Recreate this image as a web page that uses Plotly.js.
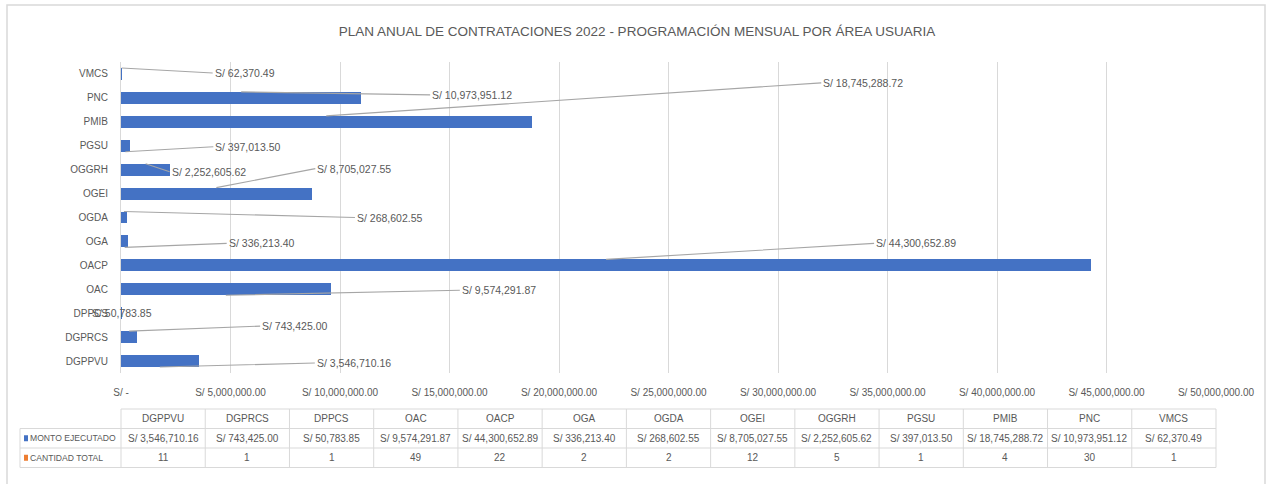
<!DOCTYPE html>
<html>
<head>
<meta charset="utf-8">
<script src="https://cdn.plot.ly/plotly-3.0.1.min.js"></script>
<style>
html,body{margin:0;padding:0;background:#fff;}
#chart{width:1268px;height:484px;}
</style>
</head>
<body>
<div id="chart"></div>
<script>
// ---------- DATA ----------
const categories = ["DGPPVU","DGPRCS","DPPCS","OAC","OACP","OGA","OGDA","OGEI","OGGRH","PGSU","PMIB","PNC","VMCS"];
const montoEjecutado = [3546710.16, 743425.00, 50783.85, 9574291.87, 44300652.89, 336213.40, 268602.55, 8705027.55, 2252605.62, 397013.50, 18745288.72, 10973951.12, 62370.49];
const cantidadTotal = [11, 1, 1, 49, 22, 2, 2, 12, 5, 1, 4, 30, 1];
const seriesNames = ["MONTO EJECUTADO", "CANTIDAD TOTAL"];
const xTickValues = [0, 5000000, 10000000, 15000000, 20000000, 25000000, 30000000, 35000000, 40000000, 45000000, 50000000];
const chartTitle = "PLAN ANUAL DE CONTRATACIONES 2022 - PROGRAMACIÓN MENSUAL POR ÁREA USUARIA";

// ---------- STYLE ----------
const FONT = '"Liberation Sans", Arial, sans-serif';
const TXT = '#595959';
const GRID = '#d9d9d9';
const BLUE = '#4472C4';
const ORANGE = '#ED7D31';

// label placement (pixel offsets of the leader-line end from the bar anchor), and anchor edge (+1 top, -1 bottom)
const labelStyle = {
  DGPPVU: {ax:155, ay:-4, edge:-1},
  DGPRCS: {ax:131, ay:-5, edge:1},
  DPPCS:  {inside:true},
  OAC:    {ax:234, ay:-5, edge:-1},
  OACP:   {ax:268, ay:-16, edge:1},
  OGA:    {ax:102, ay:-4, edge:-1},
  OGDA:   {ax:231, ay:6, edge:1},
  OGEI:   {ax:99, ay:-19, edge:1},
  OGGRH:  {ax:24, ay:8, edge:1},
  PGSU:   {ax:88, ay:-5, edge:-1},
  PMIB:   {ax:495, ay:-33, edge:1},
  PNC:    {ax:189, ay:3, edge:1},
  VMCS:   {ax:91, ay:5, edge:1}
};

function money(v){
  return 'S/ ' + v.toLocaleString('en-US',{minimumFractionDigits:2, maximumFractionDigits:2});
}
const tickText = xTickValues.map(v => v === 0 ? 'S/ -' : money(v));

// geometry of the figure (px)
const W = 1268, H = 484;
const M = {l:121, r:52, t:62, b:111};
const PW = W - M.l - M.r, PH = H - M.t - M.b;
const px2x = p => (p - M.l) / PW;
const py2y = p => (H - M.b - p) / PH;

const traces = [
  {type:'bar', orientation:'h', y:categories, x:montoEjecutado, name:seriesNames[0],
   marker:{color:BLUE}, hoverinfo:'x+y'},
  {type:'bar', orientation:'h', y:categories, x:cantidadTotal, name:seriesNames[1],
   marker:{color:ORANGE}, hoverinfo:'x+y'}
];

const annotations = [];
const shapes = [];
const labelFont = {family:FONT, size:10.5, color:TXT};

// data labels with leader lines
categories.forEach((c,i) => {
  const s = labelStyle[c];
  const v = montoEjecutado[i];
  if (s.inside) {
    annotations.push({x:v/2, y:i, xref:'x', yref:'y', text:money(v), showarrow:false,
      xanchor:'center', yanchor:'middle', font:labelFont});
  } else {
    annotations.push({x:v/2, y:i + 0.25*s.edge, xref:'x', yref:'y', text:money(v),
      showarrow:true, arrowhead:0, arrowwidth:1.1, arrowcolor:'#a6a6a6',
      ax:s.ax, ay:s.ay, xanchor:'left', yanchor:'middle', standoff:0,
      font:labelFont});
  }
});

// ---------- data table ----------
const tTop = 409, rowH = 19.5;
const tLeft = 20;
const n = categories.length;
const colW = PW / n;
const rows = [tTop, tTop+rowH, tTop+2*rowH, tTop+3*rowH];
const line = (x0,y0,x1,y1) => shapes.push({type:'line', xref:'paper', yref:'paper',
  x0:px2x(x0), y0:py2y(y0), x1:px2x(x1), y1:py2y(y1), line:{color:GRID, width:1}});
// horizontal lines
line(M.l, rows[0], M.l+PW, rows[0]);
for (let r=1; r<4; r++) line(tLeft, rows[r], M.l+PW, rows[r]);
// vertical lines
line(tLeft, rows[1], tLeft, rows[3]);
for (let k=0; k<=n; k++) line(M.l + k*colW, rows[0], M.l + k*colW, rows[3]);

const cellFont = {family:FONT, size:10, color:TXT};
const headFont = {family:FONT, size:8.6, color:TXT};
categories.forEach((c,k) => {
  const cx = px2x(M.l + (k+0.5)*colW);
  const cell = (r, t) => annotations.push({xref:'paper', yref:'paper', x:cx, y:py2y(rows[r]+rowH/2),
    xanchor:'center', yanchor:'middle', text:t, showarrow:false, font:cellFont});
  cell(0, c);
  cell(1, money(montoEjecutado[k]));
  cell(2, String(cantidadTotal[k]));
});
// row headers with legend keys
[BLUE, ORANGE].forEach((col, r) => {
  const yc = rows[r+1] + rowH/2;
  shapes.push({type:'rect', xref:'paper', yref:'paper', x0:px2x(24), x1:px2x(28), y0:py2y(yc+3), y1:py2y(yc-3),
    fillcolor:col, line:{width:0}});
  annotations.push({xref:'paper', yref:'paper', x:px2x(28), y:py2y(yc), xanchor:'left', yanchor:'middle',
    text:seriesNames[r], showarrow:false, font:headFont});
});

// outer chart border
shapes.push({type:'rect', xref:'paper', yref:'paper', x0:px2x(7), x1:px2x(1265), y0:py2y(5), y1:py2y(495),
  line:{color:GRID, width:1.5}, fillcolor:'rgba(0,0,0,0)'});

const layout = {
  width:W, height:H, autosize:false,
  margin:M,
  paper_bgcolor:'#fff', plot_bgcolor:'#fff',
  title:{text:chartTitle, x:637/W, xref:'container', xanchor:'center', y:1-31/H, yref:'container', yanchor:'middle',
    font:{family:FONT, size:13.5, color:TXT}},
  showlegend:false,
  barmode:'stack',
  bargap:0.5,
  xaxis:{range:[0,50000000], tickvals:xTickValues, ticktext:tickText, showgrid:true, gridcolor:GRID, gridwidth:1,
    zeroline:false, showline:false, ticks:'', tickfont:{family:FONT, size:10, color:TXT}, ticklabelstandoff:12,
    fixedrange:true},
  yaxis:{type:'category', categoryorder:'array', categoryarray:categories, range:[-0.5, n-0.5],
    showgrid:false, zeroline:false, showline:true, linecolor:GRID, ticks:'',
    tickfont:{family:FONT, size:10, color:TXT}, ticklabelstandoff:10, fixedrange:true},
  annotations:annotations,
  shapes:shapes
};

Plotly.newPlot('chart', traces, layout, {displayModeBar:false, staticPlot:true});
</script>
</body>
</html>
